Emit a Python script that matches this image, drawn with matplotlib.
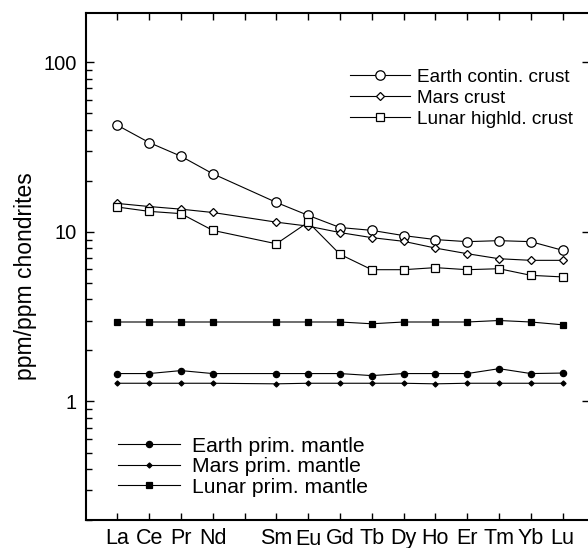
import numpy as np
import matplotlib
matplotlib.use("Agg")
import matplotlib.pyplot as plt
from matplotlib.transforms import ScaledTranslation

plt.rcParams['font.family'] = ['Liberation Sans', 'DejaVu Sans']

# REE order, Pm (index 4) has a tick but no label and no data
elements = ['La', 'Ce', 'Pr', 'Nd', '', 'Sm', 'Eu', 'Gd', 'Tb', 'Dy', 'Ho', 'Er', 'Tm', 'Yb', 'Lu']
data_idx = [0, 1, 2, 3, 5, 6, 7, 8, 9, 10, 11, 12, 13, 14]

earth_crust = [42.5, 33.6, 27.9, 22.0, 14.9, 12.5, 10.6, 10.2, 9.5, 9.0, 8.75, 8.87, 8.75, 7.78]
mars_crust = [14.7, 14.1, 13.6, 13.0, 11.4, 10.8, 9.9, 9.24, 8.79, 8.02, 7.43, 6.94, 6.79, 6.79]
lunar_crust = [14.0, 13.2, 12.8, 10.2, 8.5, 11.4, 7.37, 5.98, 5.98, 6.15, 5.98, 6.06, 5.54, 5.42]
lunar_mantle = [2.94, 2.94, 2.94, 2.94, 2.94, 2.94, 2.94, 2.87, 2.94, 2.94, 2.94, 3.0, 2.94, 2.83]
earth_mantle = [1.46, 1.46, 1.52, 1.46, 1.46, 1.46, 1.46, 1.42, 1.46, 1.46, 1.46, 1.56, 1.46, 1.47]
mars_mantle = [1.28, 1.28, 1.28, 1.28, 1.27, 1.28, 1.28, 1.28, 1.28, 1.27, 1.28, 1.28, 1.28, 1.28]

fig = plt.figure(figsize=(5.88, 5.48), dpi=100)
ax = fig.add_axes([86 / 588, 1 - 520 / 548, 504 / 588, 507 / 548])

lw = 0.8
kw = dict(color='black', lw=lw, mec='black', mew=0.9)
h1, = ax.plot(data_idx, earth_crust, marker='o', ms=6.8, mfc='white', label='Earth contin. crust', **kw)
h2, = ax.plot(data_idx, mars_crust, marker='D', ms=4.0, mfc='white', label='Mars crust', **kw)
h3, = ax.plot(data_idx, lunar_crust, marker='s', ms=6.3, mfc='white', label='Lunar highld. crust', **kw)
h4, = ax.plot(data_idx, earth_mantle, marker='o', ms=4.5, mfc='black', label='Earth prim. mantle', **kw)
h5, = ax.plot(data_idx, mars_mantle, marker='D', ms=2.6, mfc='black', label='Mars prim. mantle', **kw)
h6, = ax.plot(data_idx, lunar_mantle, marker='s', ms=5.0, mfc='black', label='Lunar prim. mantle', **kw)

ax.set_yscale('log')
ax.set_ylim(0.2, 195)
ax.set_xlim(-0.985, 14.86)

ax.set_xticks(range(len(elements)))
ax.set_xticklabels(elements, fontsize=15.5)
ax.set_yticks([1, 10, 100])
ax.set_yticklabels(['1', '10', '100'], fontsize=14.5)
ax.tick_params(axis='x', which='major', direction='in', top=True, bottom=True,
               length=5, width=1, pad=5.5)
ax.tick_params(axis='y', which='major', direction='in', left=True, right=True,
               length=6, width=1, pad=6.5)
ax.tick_params(axis='y', which='minor', direction='in', left=True, right=False,
               length=4, width=1)
ax.yaxis.set_minor_formatter(plt.NullFormatter())
ax.tick_params(axis='x', which='minor', bottom=False, top=False)

# Eu label sits a little lower
for lbl in ax.get_xticklabels():
    if lbl.get_text() == 'Eu':
        lbl.set_transform(lbl.get_transform() + ScaledTranslation(0, -1.5 / 100, fig.dpi_scale_trans))

for s in ax.spines.values():
    s.set_linewidth(1.5)

ax.set_ylabel('ppm/ppm chondrites', fontsize=16.5)
ax.yaxis.set_label_coords(-0.097, 0.482)

leg1 = ax.legend(handles=[h1, h2, h3], loc='upper left', bbox_to_anchor=(0.524, 0.891),
                 frameon=False, fontsize=13.7, handlelength=3.16, handletextpad=0.37,
                 labelspacing=0.2, borderaxespad=0, borderpad=0)
ax.add_artist(leg1)
ax.legend(handles=[h4, h5, h6], loc='upper left', bbox_to_anchor=(0.0635, 0.164),
          frameon=False, fontsize=15.2, handlelength=2.95, handletextpad=0.57,
          labelspacing=0.07, borderaxespad=0, borderpad=0)

fig.savefig('out.png', dpi=100)
